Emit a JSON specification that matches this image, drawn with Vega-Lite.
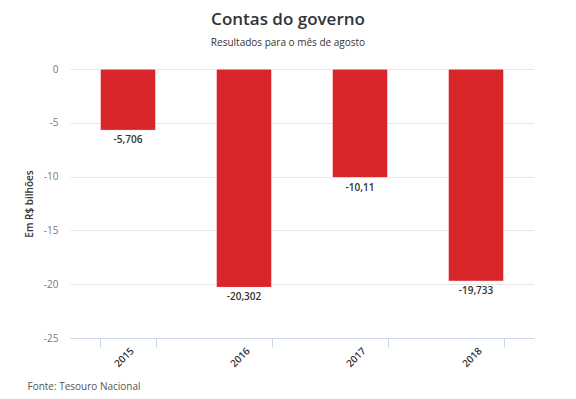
{
  "$schema": "https://vega.github.io/schema/vega-lite/v6.json",
  "width": 464,
  "height": 269,
  "autosize": {"type": "none"},
  "padding": {"left": 70, "top": 69, "right": 42, "bottom": 61},
  "background": "white",
  "config": {"font": "Open Sans", "view": {"stroke": null}},
  "title": {
    "text": "Contas do governo",
    "subtitle": "Resultados para o mês de agosto",
    "anchor": "middle",
    "dx": -14,
    "offset": 15,
    "fontSize": 17,
    "fontWeight": 600,
    "color": "#333333",
    "subtitleFontSize": 10,
    "subtitleColor": "#333333",
    "subtitlePadding": 9
  },
  "data": {
    "values": [
      {"ano": "2015", "valor": -5.706, "rotulo": "-5,706"},
      {"ano": "2016", "valor": -20.302, "rotulo": "-20,302"},
      {"ano": "2017", "valor": -10.11, "rotulo": "-10,11"},
      {"ano": "2018", "valor": -19.733, "rotulo": "-19,733"}
    ]
  },
  "encoding": {
    "x": {
      "field": "ano",
      "type": "nominal",
      "scale": {"paddingInner": 0.52, "paddingOuter": 0.26},
      "axis": {
        "title": "Fonte: Tesouro Nacional",
        "titleAnchor": "start",
        "titleX": -43,
        "titleY": 51,
        "titleBaseline": "alphabetic",
        "titleFontSize": 10,
        "titleFontWeight": "normal",
        "titleColor": "#555555",
        "labelAngle": -45,
        "labelAlign": "right",
        "labelBaseline": "middle",
        "labelFontSize": 10,
        "labelFontWeight": 600,
        "labelColor": "#333333",
        "labelPadding": 2,
        "labelOffset": 4,
        "tickBand": "extent",
        "tickSize": 9,
        "tickColor": "#ccd6eb",
        "domainColor": "#ccd6eb",
        "grid": false
      }
    },
    "y": {
      "field": "valor",
      "type": "quantitative",
      "scale": {"domain": [-25, 0], "nice": false},
      "axis": {
        "title": "Em R$ bilhões",
        "titleFontSize": 10,
        "titleFontWeight": 600,
        "titleColor": "#333333",
        "titlePadding": 9,
        "values": [0, -5, -10, -15, -20, -25],
        "labelExpr": "datum.value",
        "labelFontSize": 10,
        "labelColor": "#7a7a7a",
        "labelPadding": 12,
        "ticks": false,
        "domain": false,
        "gridColor": "#e6e6e6"
      }
    }
  },
  "layer": [
    {"mark": {"type": "bar", "color": "#d9262a", "stroke": "#ffffff", "strokeWidth": 1}},
    {
      "mark": {"type": "text", "baseline": "top", "dy": 5, "fontSize": 10, "fontWeight": 600, "color": "#333333"},
      "encoding": {"text": {"field": "rotulo"}}
    }
  ]
}
